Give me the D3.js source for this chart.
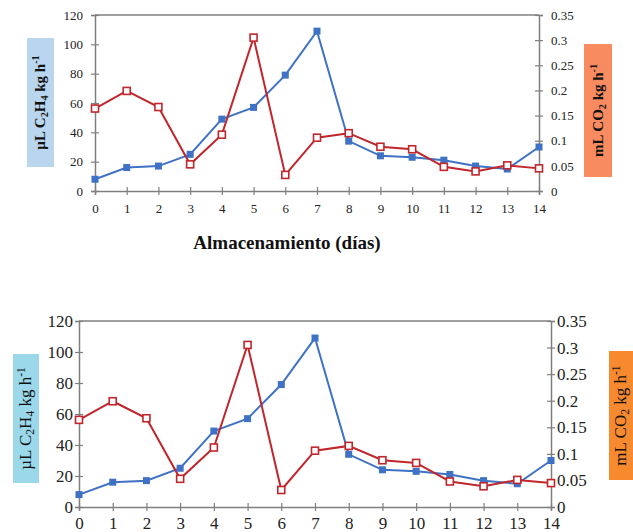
<!DOCTYPE html>
<html>
<head>
<meta charset="utf-8">
<script src="https://cdn.jsdelivr.net/npm/d3@7"></script>
<style>
  body { margin: 0; background: #fff; }
  svg { display: block; }
</style>
</head>
<body>
<svg width="633" height="532"></svg>
<script>
// storage days
const days = [0, 1, 2, 3, 4, 5, 6, 7, 8, 9, 10, 11, 12, 13, 14];
// ethylene, uL C2H4 kg h-1 (left axis)
const ethylene = [8, 16, 17, 25, 49, 57, 79, 109, 34, 24, 23, 21, 17, 15, 30];
// respiration, mL CO2 kg h-1 (right axis)
const co2 = [0.164, 0.199, 0.167, 0.053, 0.112, 0.305, 0.032, 0.106, 0.115, 0.088, 0.083, 0.048, 0.039, 0.051, 0.045];

const leftTicks = [0, 20, 40, 60, 80, 100, 120];
const rightTicks = [0, 0.05, 0.1, 0.15, 0.2, 0.25, 0.3, 0.35];

const svg = d3.select("svg");
const serif = "Liberation Serif, DejaVu Serif, serif";

// two copies of the same chart, with slightly different styling
const charts = [
  { x0: 95, x1: 539, top: 15, bottom: 191, tickFont: 13, labelFont: 15, labelWeight: "bold",
    leftBox: { x: 27, y: 38, w: 27, h: 129, fill: "#bad6ef" },
    rightBox: { x: 584, y: 44, w: 28, h: 133, fill: "#f98b61" },
    title: true },
  { x0: 79, x1: 551, top: 321, bottom: 507, tickFont: 17, labelFont: 17, labelWeight: "normal",
    leftBox: { x: 13, y: 354, w: 26, h: 129, fill: "#9ad8ea" },
    rightBox: { x: 609, y: 351, w: 24, h: 129, fill: "#f7892f" },
    title: false }
];

charts.forEach(c => drawChart(c));

function drawChart(c) {
  const x = d3.scaleLinear().domain([0, 14]).range([c.x0, c.x1]);
  const yL = d3.scaleLinear().domain([0, 120]).range([c.bottom, c.top]);
  const yR = d3.scaleLinear().domain([0, 0.35]).range([c.bottom, c.top]);
  const g = svg.append("g");
  const axisColor = "#7f7f7f";

  // top border line
  g.append("line")
    .attr("x1", c.x0).attr("x2", c.x1)
    .attr("y1", c.top).attr("y2", c.top)
    .attr("stroke", axisColor).attr("stroke-width", 1.5);

  const styleAxis = (sel, dir) => {
    sel.select(".domain").attr("stroke", axisColor).attr("stroke-width", 1.5);
    sel.selectAll(".tick line").attr("stroke", axisColor).attr("stroke-width", 1.2);
    sel.selectAll(".tick text")
      .attr("font-family", serif)
      .attr("font-size", c.tickFont)
      .attr("fill", "#222");
    if (dir === "x") sel.selectAll(".tick line").attr("y1", -4).attr("y2", 4);
    else sel.selectAll(".tick line").attr("x1", -4).attr("x2", 4);
  };

  g.append("g")
    .attr("transform", `translate(0,${c.bottom})`)
    .call(d3.axisBottom(x).tickValues(days).tickFormat(d3.format("d")).tickSizeOuter(0).tickSize(4).tickPadding(c.title ? 9 : 6))
    .call(s => styleAxis(s, "x"));

  g.append("g")
    .attr("transform", `translate(${c.x0},0)`)
    .call(d3.axisLeft(yL).tickValues(leftTicks).tickSizeOuter(0).tickSize(4).tickPadding(c.title ? 8 : 2))
    .call(s => styleAxis(s, "y"));

  g.append("g")
    .attr("transform", `translate(${c.x1},0)`)
    .call(d3.axisRight(yR).tickValues(rightTicks).tickFormat(d => d3.format("")(+d.toFixed(2))).tickSizeOuter(0).tickSize(4).tickPadding(c.title ? 8 : 2))
    .call(s => styleAxis(s, "y"));

  // lines
  const blue = "#3f72c4", red = "#c0262c";
  const lineL = d3.line().x((d, i) => x(days[i])).y(d => yL(d));
  const lineR = d3.line().x((d, i) => x(days[i])).y(d => yR(d));

  g.append("path").datum(ethylene)
    .attr("d", lineL).attr("fill", "none").attr("stroke", blue).attr("stroke-width", 2);
  g.append("path").datum(co2)
    .attr("d", lineR).attr("fill", "none").attr("stroke", red).attr("stroke-width", 2);

  g.selectAll("rect.eth").data(ethylene).join("rect")
    .attr("class", "eth")
    .attr("x", (d, i) => x(days[i]) - 3.5).attr("y", d => yL(d) - 3.5)
    .attr("width", 7).attr("height", 7)
    .attr("fill", blue);

  g.selectAll("rect.co2").data(co2).join("rect")
    .attr("class", "co2")
    .attr("x", (d, i) => x(days[i]) - 3.5).attr("y", d => yR(d) - 3.5)
    .attr("width", 7).attr("height", 7)
    .attr("fill", "#fff").attr("stroke", red).attr("stroke-width", 1.6);

  // axis label boxes
  const label = (box, parts) => {
    g.append("rect")
      .attr("x", box.x).attr("y", box.y).attr("width", box.w).attr("height", box.h)
      .attr("fill", box.fill);
    const cx = box.x + box.w / 2 + c.labelFont * 0.3, cy = box.y + box.h / 2;
    const t = g.append("text")
      .attr("transform", `translate(${cx},${cy}) rotate(-90)`)
      .attr("text-anchor", "middle")
      .attr("font-family", serif)
      .attr("font-weight", c.labelWeight)
      .attr("font-size", c.labelFont)
      .attr("fill", "#111");
    parts.forEach(p => {
      const ts = t.append("tspan").text(p.t);
      if (p.sub) ts.attr("font-size", c.labelFont * 0.68).attr("dy", 3);
      if (p.back) ts.attr("dy", -3);
      if (p.sup) ts.attr("font-size", c.labelFont * 0.68).attr("dy", -6);
    });
  };

  label(c.leftBox, [
    { t: "µL C" }, { t: "2", sub: true }, { t: "H", back: true }, { t: "4", sub: true },
    { t: " kg h", back: true }, { t: "-1", sup: true }
  ]);
  label(c.rightBox, [
    { t: "mL CO" }, { t: "2", sub: true }, { t: " kg h", back: true }, { t: "-1", sup: true }
  ]);

  if (c.title) {
    g.append("text")
      .attr("x", (c.x0 + c.x1) / 2 - 30).attr("y", c.bottom + 58)
      .attr("text-anchor", "middle")
      .attr("font-family", serif)
      .attr("font-weight", "bold")
      .attr("font-size", 19)
      .attr("fill", "#111")
      .text("Almacenamiento (días)");
  }
}
</script>
</body>
</html>
